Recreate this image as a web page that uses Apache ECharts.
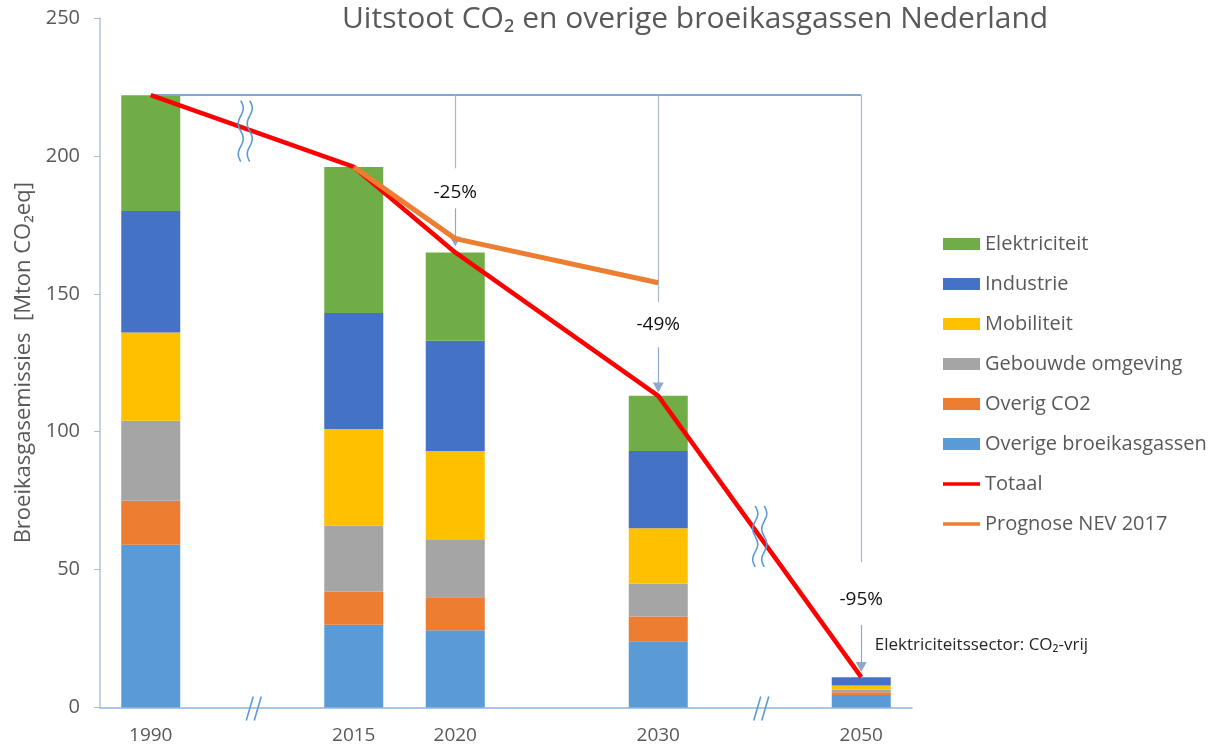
<!DOCTYPE html>
<html><head><meta charset="utf-8">
<script src="https://cdn.jsdelivr.net/npm/echarts@6/dist/echarts.min.js"></script>
<style>html,body{margin:0;padding:0;background:#fff}#c{width:1211px;height:750px}</style>
</head><body><div id="c"></div>
<script>
// ---- data ----
const categories = ['1990', '', '2015', '2020', '', '2030', '', '2050'];
const overigeBroeikasgassen = [59, null, 30, 28, null, 24, null, 4.5];
const overigCO2 = [16, null, 12, 12, null, 9, null, 1];
const gebouwdeOmgeving = [29, null, 24, 21, null, 12, null, 1];
const mobiliteit = [32, null, 35, 32, null, 20, null, 1.5];
const industrie = [44, null, 42, 40, null, 28, null, 3];
const elektriciteit = [42, null, 53, 32, null, 20, null, 0];
const totaal = [222, null, 196, 165, null, 113, null, 11];
const prognoseNEV2017 = [null, null, 196, 170, null, 154, null, null];
const yTickMax = 250, yTickStep = 50;
const reductionLabels = ['-25%', '-49%', '-95%'];
const reductionTargets = [3, 5, 7];           // category indices
const breakGaps = [1, 6];                      // category indices with axis breaks
const noteText = 'Elektriciteitssector: CO\u2082-vrij';

// ---- style ----
const FONT = '"Open Sans", "Noto Sans", sans-serif';
const GREY = '#595959';
const chart = echarts.init(document.getElementById('c'), null, {renderer: 'canvas'});

const barDefs = [
  ['Overige broeikasgassen', overigeBroeikasgassen, '#5b9bd5'],
  ['Overig CO2', overigCO2, '#ed7d31'],
  ['Gebouwde omgeving', gebouwdeOmgeving, '#a5a5a5'],
  ['Mobiliteit', mobiliteit, '#ffc000'],
  ['Industrie', industrie, '#4472c4'],
  ['Elektriciteit', elektriciteit, '#70ad47']
];
const series = barDefs.map(([name, data, color]) => ({
  name, type: 'bar', stack: 'total', data, barWidth: 59, z: 2,
  itemStyle: {color}, emphasis: {disabled: true}
}));
series.push({
  name: 'Totaal', type: 'line', data: totaal, connectNulls: true, symbol: 'none', z: 5,
  lineStyle: {color: '#ff0000', width: 4.5}, itemStyle: {color: '#ff0000'}
});
series.push({
  name: 'Prognose NEV 2017', type: 'line', data: prognoseNEV2017, connectNulls: true, symbol: 'none', z: 6,
  lineStyle: {color: '#ed7d31', width: 5}, itemStyle: {color: '#ed7d31'}
});

// annotation (bracket + arrows) positioned in data coordinates
const ref = totaal[0];
const seg = [[195.5, 186.8, 181, 169], [147, 139, 130.6, 116], [52.7, 39, 29.9, 14.7]];
const mlData = [[{coord: [0, ref], symbol: 'none', lineStyle: {color: '#7fa6d7', width: 2, type: 'solid'}},
                 {coord: [7, ref], symbol: 'none'}]];
reductionTargets.forEach((idx, i) => {
  const s = seg[i];
  mlData.push([{coord: [idx, ref], symbol: 'none', lineStyle: {color: '#a3b9d6', width: 1.2, type: 'solid'}},
               {coord: [idx, s[0]], symbol: 'none'}]);
  mlData.push([{coord: [idx, s[2]], symbol: 'none', lineStyle: {color: '#8fa9cc', width: 1.2, type: 'solid'}},
               {coord: [idx, s[3]], symbol: 'triangle', symbolSize: [11, 10]}]);
});
const mpData = reductionTargets.map((idx, i) => ({
  coord: [idx, seg[i][1]], label: {formatter: reductionLabels[i]}
}));
mpData.push({coord: [7, 22.6], label: {formatter: noteText, position: 'right', distance: 13, fontSize: 17, color: '#262626'}});

series.push({
  name: 'annot', type: 'line', data: [], z: 1, silent: true,
  markLine: {silent: true, animation: false, symbolSize: [11, 10], label: {show: false},
    lineStyle: {color: '#5b9bd5'}, itemStyle: {color: '#5b9bd5'}, emphasis: {disabled: true}, data: mlData},
  markPoint: {silent: true, animation: false, symbol: 'circle', symbolSize: 1,
    itemStyle: {color: 'rgba(0,0,0,0)'},
    label: {show: true, position: 'inside', fontFamily: FONT, fontSize: 19, color: '#111'},
    data: mpData}
});

const lineIcon = 'path://M0,0 H40 V4 H0 Z';
chart.setOption({
  animation: false,
  backgroundColor: '#fff',
  title: {
    text: 'Uitstoot CO\u2082 en overige broeikasgassen Nederland',
    left: 342, top: 4, padding: 0,
    textStyle: {fontFamily: FONT, fontSize: 30, fontWeight: 'normal', color: GREY}
  },
  legend: {
    orient: 'vertical', left: 943, top: 234, padding: 0, itemWidth: 37, itemHeight: 12, itemGap: 20,
    selectedMode: false,
    textStyle: {fontFamily: FONT, fontSize: 20, color: GREY, lineHeight: 20},
    data: [
      {name: 'Elektriciteit', icon: 'rect'},
      {name: 'Industrie', icon: 'rect'},
      {name: 'Mobiliteit', icon: 'rect'},
      {name: 'Gebouwde omgeving', icon: 'rect'},
      {name: 'Overig CO2', icon: 'rect'},
      {name: 'Overige broeikasgassen', icon: 'rect'},
      {name: 'Totaal', icon: lineIcon},
      {name: 'Prognose NEV 2017', icon: lineIcon}
    ]
  },
  grid: {left: 100, top: 18, width: 812, height: 689.5, containLabel: false},
  xAxis: {
    type: 'category', data: categories,
    axisLine: {lineStyle: {color: '#8eb4e3', width: 1.5}},
    axisTick: {show: false},
    axisLabel: {fontFamily: FONT, fontSize: 19, color: GREY, margin: 19, interval: 0}
  },
  yAxis: {
    type: 'value', min: 0, max: yTickMax, interval: yTickStep,
    name: 'Broeikasgasemissies  [Mton CO\u2082eq]', nameLocation: 'middle', nameGap: 64, nameRotate: 90,
    nameTextStyle: {fontFamily: FONT, fontSize: 22, color: GREY},
    axisLine: {show: true, lineStyle: {color: '#b4c3d6', width: 1.5}},
    axisTick: {show: true, length: 6, lineStyle: {color: '#a6bcd9'}},
    splitLine: {show: false},
    axisLabel: {fontFamily: FONT, fontSize: 20, color: GREY, margin: 20}
  },
  series
});

// decorations: axis break marks and wavy line breaks
function interpTotal(idx) {
  let a = idx, b = idx;
  while (totaal[a] == null) a--;
  while (totaal[b] == null) b++;
  return totaal[a] + (totaal[b] - totaal[a]) * (idx - a) / (b - a);
}
const graphics = [];
const xOffsets = {1: -7, 6: 0};
breakGaps.forEach(idx => {
  const p0 = chart.convertToPixel({gridIndex: 0}, [idx, 0]);
  [-6, 2].forEach(dx => graphics.push({
    type: 'line', z: 10,
    shape: {x1: p0[0] + dx, y1: p0[1] + 13, x2: p0[0] + dx + 7, y2: p0[1] - 11},
    style: {stroke: '#5b9bd5', lineWidth: 1.6}
  }));
  const pc = chart.convertToPixel({gridIndex: 0}, [idx, interpTotal(idx)]);
  const cx = pc[0] + xOffsets[idx], cy = pc[1];
  [-4.5, 4.5].forEach(dx => {
    const pts = [];
    for (let k = 0; k <= 40; k++) {
      const t = k / 40;
      pts.push([cx + dx + 2.5 * Math.sin(t * Math.PI * 4), cy - 30.5 + 61 * t]);
    }
    graphics.push({type: 'polyline', z: 10, shape: {points: pts}, style: {stroke: '#5b9bd5', lineWidth: 1.6, fill: null}});
  });
});
chart.setOption({graphic: graphics});
</script>
</body></html>
